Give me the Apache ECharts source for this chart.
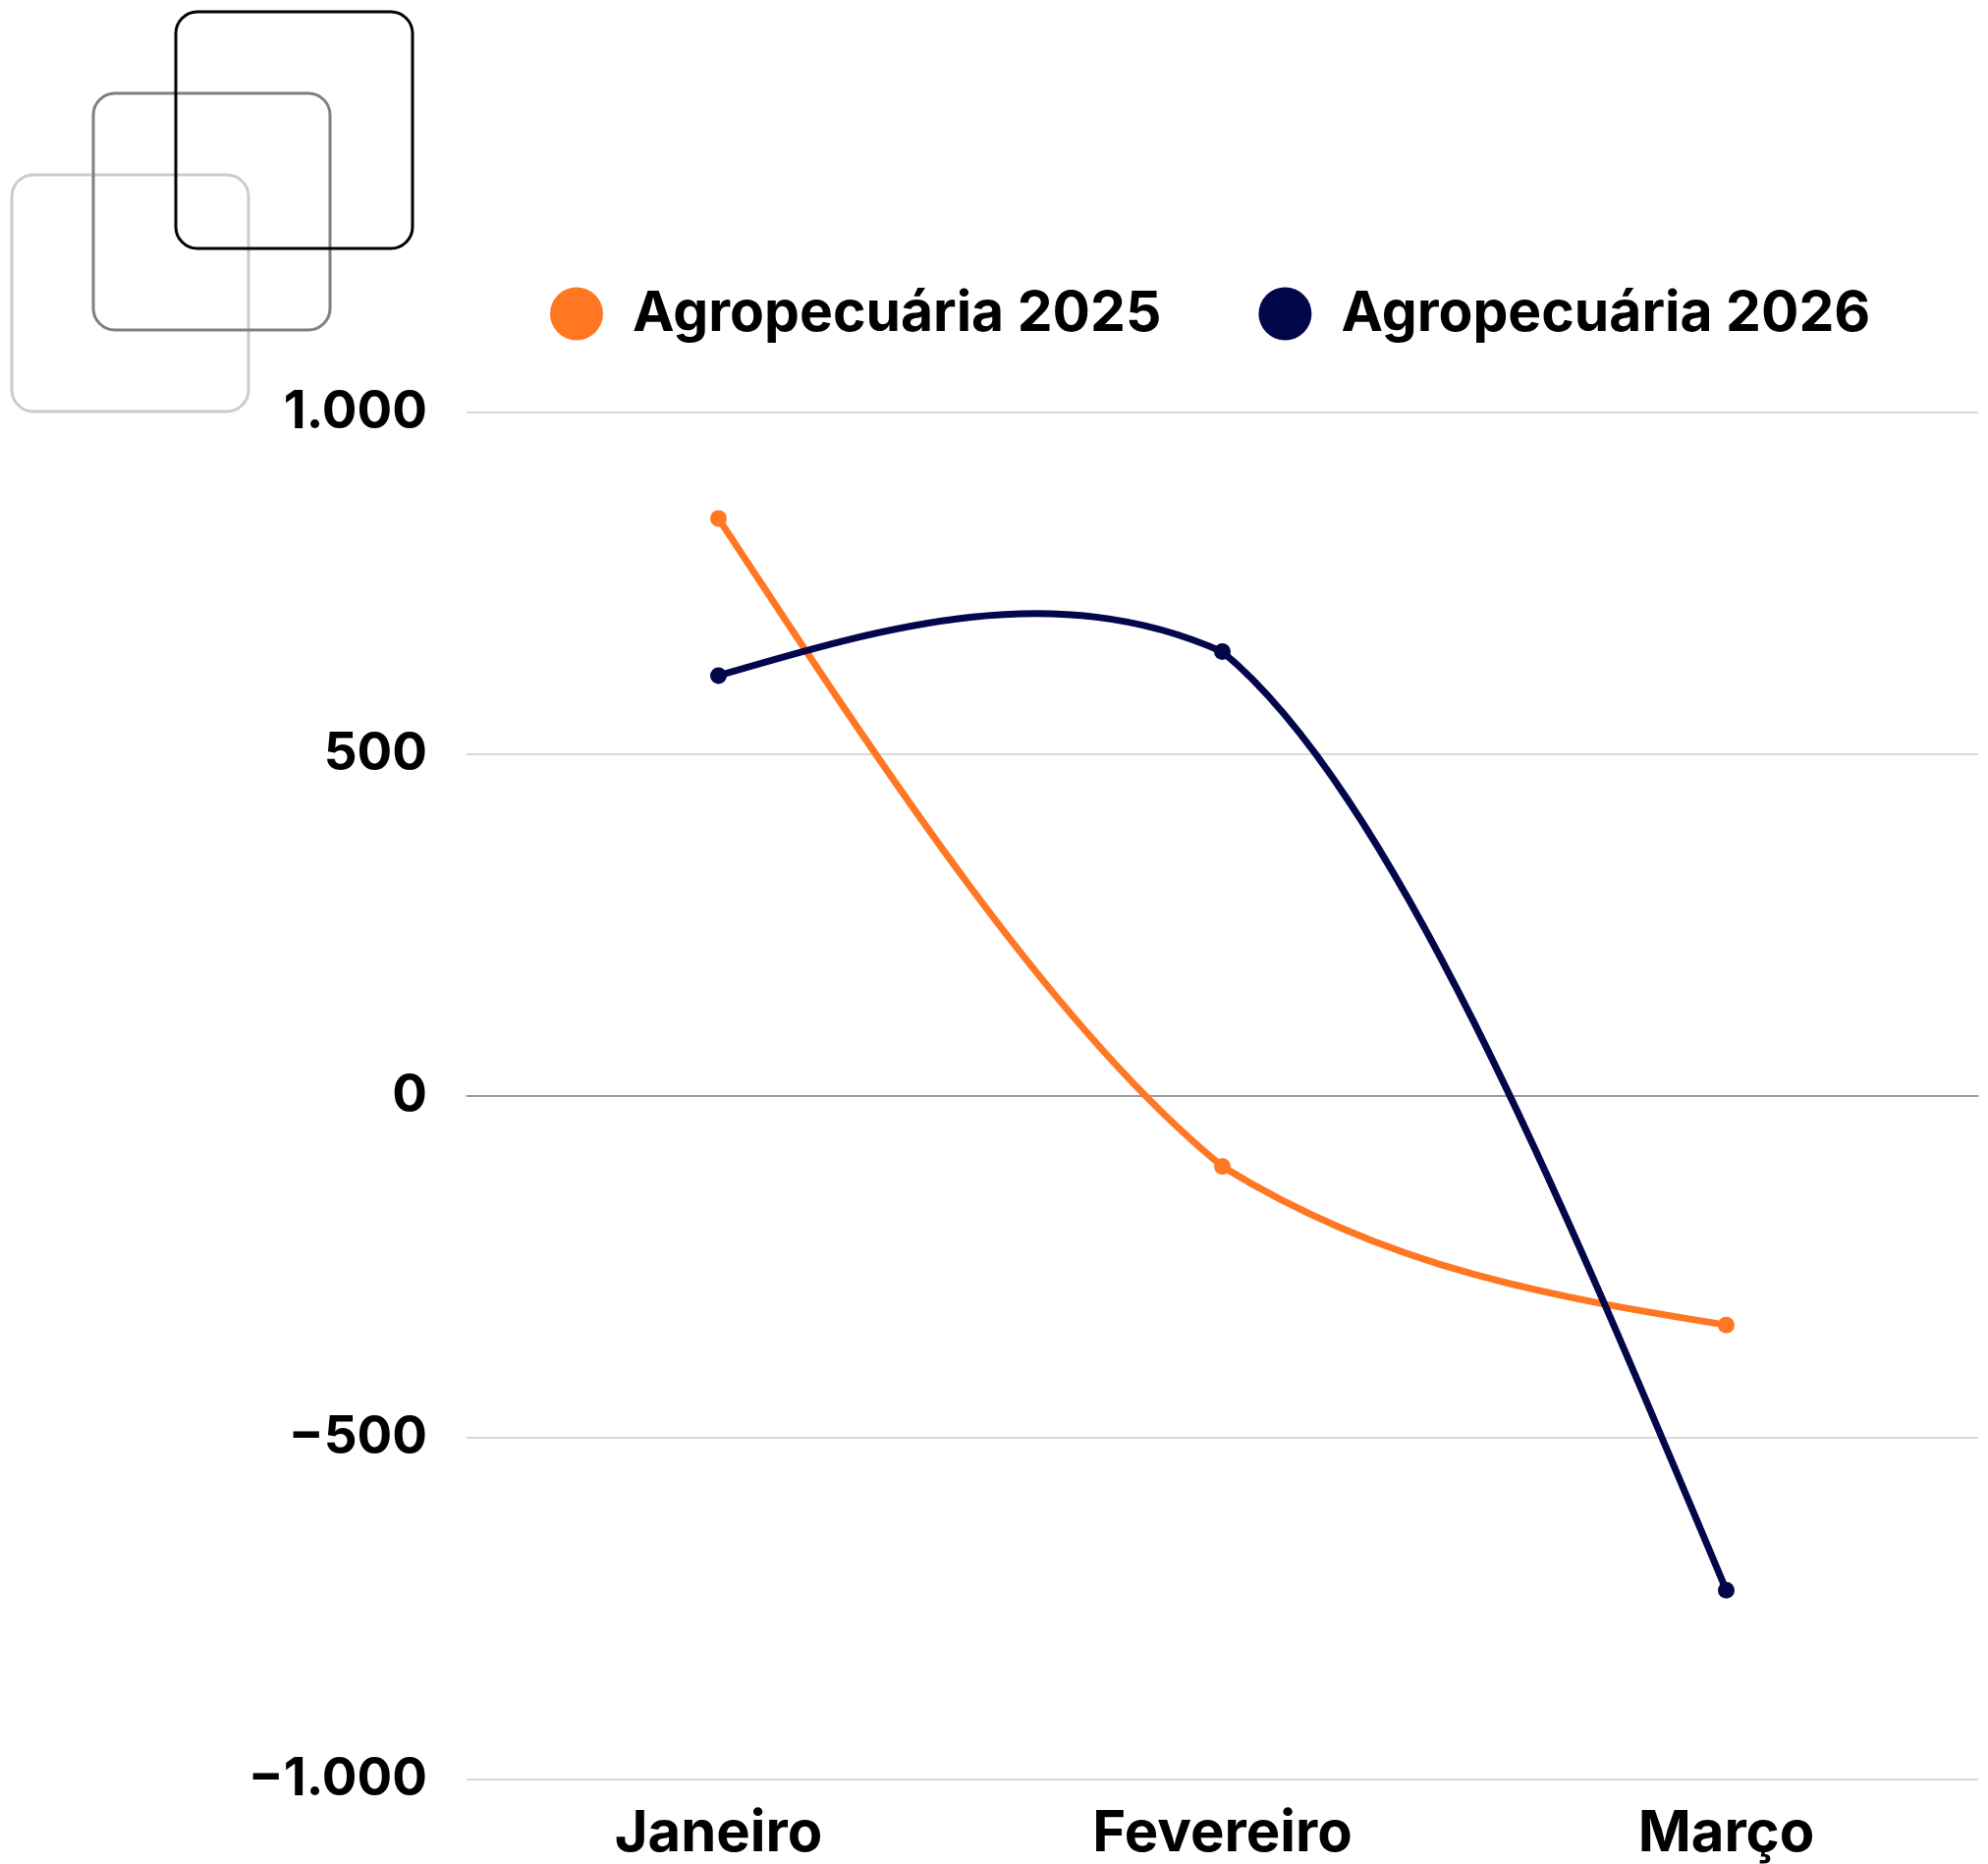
<!DOCTYPE html>
<html>
<head>
<meta charset="utf-8">
<style>
  html, body { margin: 0; padding: 0; background: #fff; }
  #main { width: 2024px; height: 1898px; }
</style>
<script src="https://cdn.jsdelivr.net/npm/echarts@6/dist/echarts.min.js"></script>
</head>
<body>
<div id="main"></div>
<script>
const months = ["Janeiro", "Fevereiro", "Março"];
const agro2025 = [845, -103, -335];
const agro2026 = [615, 650, -723];
const yTicks = [-1000, -500, 0, 500, 1000];

const FONT = "Inter";
const CHORD_MIX = 0.2;

const myChart = echarts.init(document.getElementById("main"));

// número no formato pt-BR, com sinal de menos tipográfico
function fmt(v) {
  const s = Math.abs(v).toString().replace(/\B(?=(\d{3})+(?!\d))/g, ".");
  return (v < 0 ? "\u2212" : "") + s;
}

// quadrados decorativos no canto
function square(x, y, color) {
  return {
    type: "rect",
    shape: { x: x, y: y, width: 241, height: 241, r: 22 },
    style: { fill: "none", stroke: color, lineWidth: 3 },
    silent: true
  };
}

// inclinação num ponto interno, puxada um pouco para a corda do lado (side -1 / +1)
function slopeAt(pts, k, side) {
  const a = pts[k - 1], b = pts[k], c = pts[k + 1];
  const l0 = Math.hypot(b[0] - a[0], b[1] - a[1]) || 1;
  const l1 = Math.hypot(c[0] - b[0], c[1] - b[1]) || 1;
  const tx = (b[0] - a[0]) / l0 + (c[0] - b[0]) / l1;
  const ty = (b[1] - a[1]) / l0 + (c[1] - b[1]) / l1;
  const chord = side < 0
    ? (b[1] - a[1]) / (b[0] - a[0])
    : (c[1] - b[1]) / (c[0] - b[0]);
  return (1 - CHORD_MIX) * (ty / tx) + CHORD_MIX * chord;
}

// pontos de controle do trecho i -> i+1 (extremos "naturais")
function segmentControls(pts, i) {
  const p = pts[i], q = pts[i + 1];
  const w = (q[0] - p[0]) / 3;
  const n = pts.length;
  let cpA = null, cpB = null;
  if (i > 0) cpA = [p[0] + w, p[1] + slopeAt(pts, i, 1) * w];
  if (i + 1 < n - 1) cpB = [q[0] - w, q[1] - slopeAt(pts, i + 1, -1) * w];
  if (!cpA && !cpB) {
    cpA = [p[0] + w, p[1] + (q[1] - p[1]) / 3];
    cpB = [q[0] - w, q[1] - (q[1] - p[1]) / 3];
  } else if (!cpA) {
    cpA = [(p[0] + cpB[0]) / 2, (p[1] + cpB[1]) / 2];
  } else if (!cpB) {
    cpB = [(q[0] + cpA[0]) / 2, (q[1] + cpA[1]) / 2];
  }
  return [cpA, cpB];
}

function curveSeries(name, values, color, z) {
  return {
    name: name,
    type: "custom",
    data: values.map((v, i) => [i, v]),
    encode: { x: 0, y: 1 },
    itemStyle: { color: color },
    z: z,
    renderItem: function (params, api) {
      const i = params.dataIndex;
      const pts = values.map((v, k) => api.coord([k, v]));
      const p = pts[i];
      const children = [];
      if (i < pts.length - 1) {
        const q = pts[i + 1];
        const cps = segmentControls(pts, i);
        children.push({
          type: "bezierCurve",
          shape: {
            x1: p[0], y1: p[1],
            cpx1: cps[0][0], cpy1: cps[0][1],
            cpx2: cps[1][0], cpy2: cps[1][1],
            x2: q[0], y2: q[1]
          },
          style: { fill: null, stroke: color, lineWidth: 7, lineCap: "round" }
        });
      }
      children.push({
        type: "circle",
        shape: { cx: p[0], cy: p[1], r: 8.5 },
        style: { fill: color },
        z2: 10
      });
      return { type: "group", children: children };
    }
  };
}

const option = {
  backgroundColor: "#ffffff",
  animation: false,
  graphic: [
    square(12, 178, "#cccccc"),
    square(95, 95, "#808080"),
    square(179, 12, "#000000")
  ],
  legend: {
    left: 555,
    top: 286,
    icon: "circle",
    itemWidth: 54,
    itemHeight: 54,
    itemGap: 99,
    textStyle: {
      fontFamily: FONT,
      fontWeight: 700,
      fontSize: 57,
      color: "#000",
      padding: [0, 0, 0, 25]
    },
    data: ["Agropecuária 2025", "Agropecuária 2026"]
  },
  grid: {
    left: 475,
    right: 10,
    top: 420,
    bottom: 86
  },
  xAxis: {
    type: "category",
    data: months,
    boundaryGap: true,
    axisTick: { show: false },
    axisLine: { show: true, onZero: true, lineStyle: { color: "#888888", width: 1.5 } },
    axisLabel: {
      fontFamily: FONT,
      fontWeight: 700,
      fontSize: 58,
      color: "#000",
      margin: 27,
      interval: 0
    }
  },
  yAxis: {
    type: "value",
    min: yTicks[0],
    max: yTicks[yTicks.length - 1],
    interval: 500,
    axisLine: { show: false },
    axisTick: { show: false },
    splitLine: { lineStyle: { color: "#cccccc", width: 1.5 } },
    axisLabel: {
      fontFamily: FONT,
      fontWeight: 700,
      fontSize: 53,
      color: "#000",
      margin: 40,
      formatter: fmt
    }
  },
  series: [
    curveSeries("Agropecuária 2025", agro2025, "#ff7722", 3),
    curveSeries("Agropecuária 2026", agro2026, "#02074b", 4)
  ]
};

option && myChart.setOption(option);
</script>
</body>
</html>
